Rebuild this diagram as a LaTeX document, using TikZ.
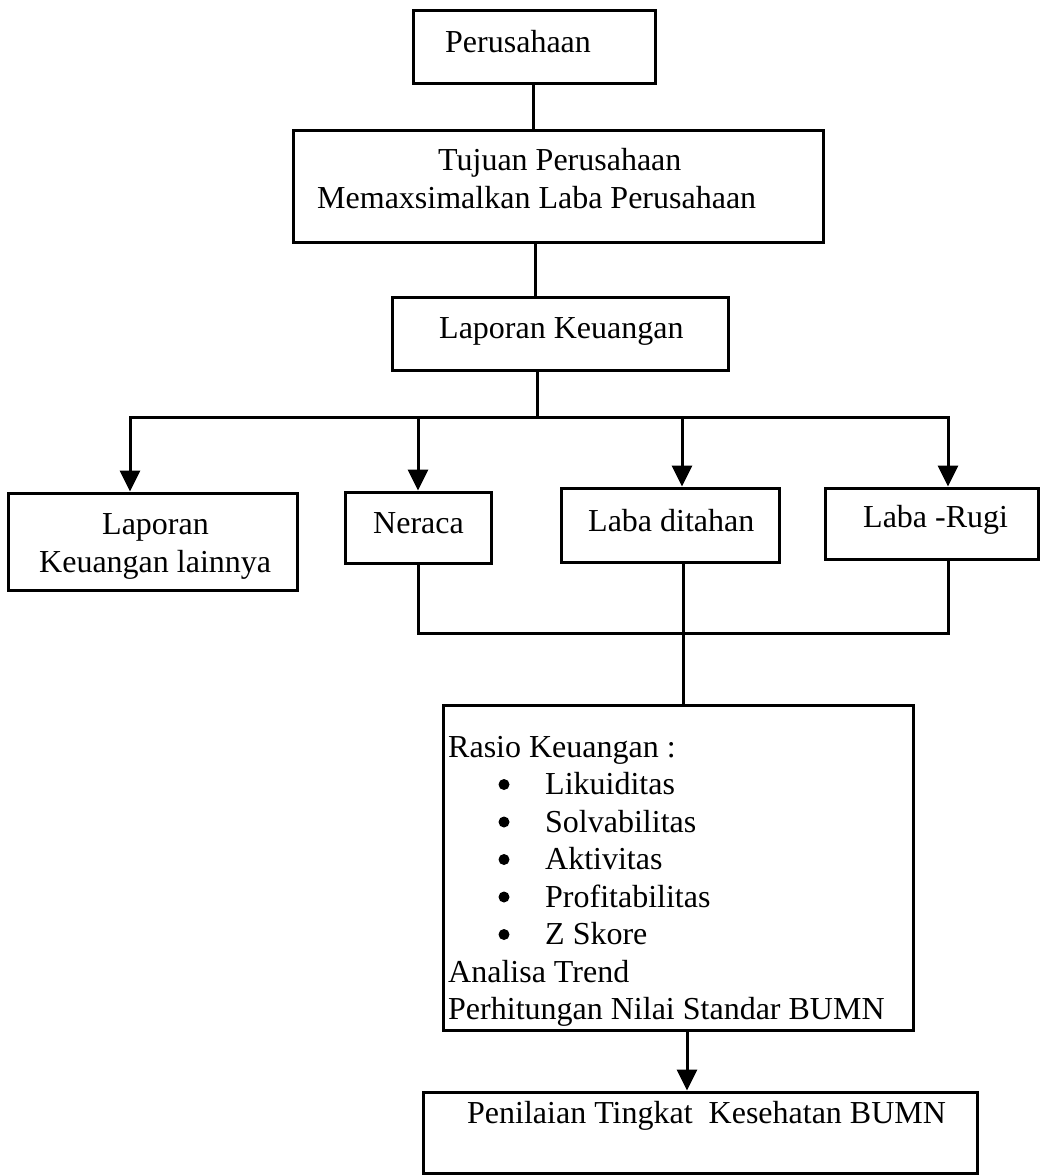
\documentclass[tikz,border=0pt]{standalone}
\usepackage{fontspec}
\setmainfont{Liberation Serif}
\usetikzlibrary{arrows.meta,calc}
\begin{document}
\begin{tikzpicture}[x=1pt,y=-1pt,
  box/.style={draw,line width=3pt,inner sep=0pt},
  txt/.style={inner sep=0pt,anchor=base west,font=\fontsize{32}{37.5}\selectfont},
  con/.style={line width=3pt,line join=miter},
  arr/.style={con,-{Triangle[width=20pt,length=21pt]}}]
\useasboundingbox (0,0) rectangle (1042,1176);
% boxes
\node[box,minimum width=242pt,minimum height=73pt] (per) at (534,46.5) {};
\node[box,minimum width=530pt,minimum height=112pt] (tuj) at (558,186) {};
\node[box,minimum width=336pt,minimum height=73pt] (lap) at (560,333.5) {};
\node[box,minimum width=289pt,minimum height=97pt] (lain) at (152.5,541.5) {};
\node[box,minimum width=146pt,minimum height=71pt] (ner) at (418,527.5) {};
\node[box,minimum width=218pt,minimum height=74pt] (lab) at (670,525) {};
\node[box,minimum width=213pt,minimum height=71pt] (rug) at (931.5,523.5) {};
\node[box,minimum width=470pt,minimum height=325pt] (ras) at (678,867.5) {};
\node[box,minimum width=554pt,minimum height=81pt] (pen) at (700,1132.5) {};
% texts
\node[txt] (tper) at (445,52) {Perusahaan};
\node[txt] (ttuj1) at (438,170) {Tujuan Perusahaan};
\node[txt] (ttuj2) at (317,208) {Memaxsimalkan Laba Perusahaan};
\node[txt] (tlap) at (439,338) {Laporan Keuangan};
\node[txt] (tlain1) at (102,534) {Laporan};
\node[txt] (tlain2) at (39,572) {Keuangan lainnya};
\node[txt] (tner) at (373,533) {Neraca};
\node[txt] (tlab) at (588,531) {Laba ditahan};
\node[txt] (trug) at (863,527) {Laba -Rugi};
\node[txt] (tr0) at (448,757) {Rasio Keuangan :};
\node[txt] (tr1) at (545,794.5) {Likuiditas};
\node[txt] (tr2) at (545,832) {Solvabilitas};
\node[txt] (tr3) at (545,869.5) {Aktivitas};
\node[txt] (tr4) at (545,907) {Profitabilitas};
\node[txt] (tr5) at (545,944.5) {Z Skore};
\node[txt] (tr6) at (448,982) {Analisa Trend};
\node[txt] (tr7) at (448,1019.5) {Perhitungan Nilai Standar BUMN};
\node[txt] (tpen) at (467,1123) {Penilaian Tingkat\ \ Kesehatan BUMN};
\foreach \yy in {794.5,832,869.5,907,944.5}{\fill (504,\yy-10) circle[radius=5.5pt];}
% connector coordinates
\coordinate (c0) at (533,100);
\coordinate (c1) at (535,270);
\coordinate (jt) at (537,417);
\coordinate (xa) at (130,417);
\coordinate (xb) at (418,417);
\coordinate (xc) at (682,417);
\coordinate (xd) at (948,417);
\coordinate (ya) at (418,633);
\coordinate (yc) at (683,633);
\coordinate (yd) at (948,633);
\coordinate (zc) at (687,1060);
% connectors
\draw[con] (per.south -| c0) -- (tuj.north -| c0);
\draw[con] (tuj.south -| c1) -- (lap.north -| c1);
\draw[con] (lap.south -| jt) -- (jt);
\draw[arr] (xc) -- (xa) -- (lain.north -| xa);
\draw[arr] (xc) -- (xd) -- (rug.north -| xd);
\draw[arr] (xb) -- (ner.north -| xb);
\draw[arr] (xc) -- (lab.north -| xc);
\draw[con] (ner.south -| ya) -- (ya) -- (yd) -- (rug.south -| yd);
\draw[con] (lab.south -| yc) -- (ras.north -| yc);
\draw[arr] (ras.south -| zc) -- (pen.north -| zc);
\end{tikzpicture}
\end{document}
